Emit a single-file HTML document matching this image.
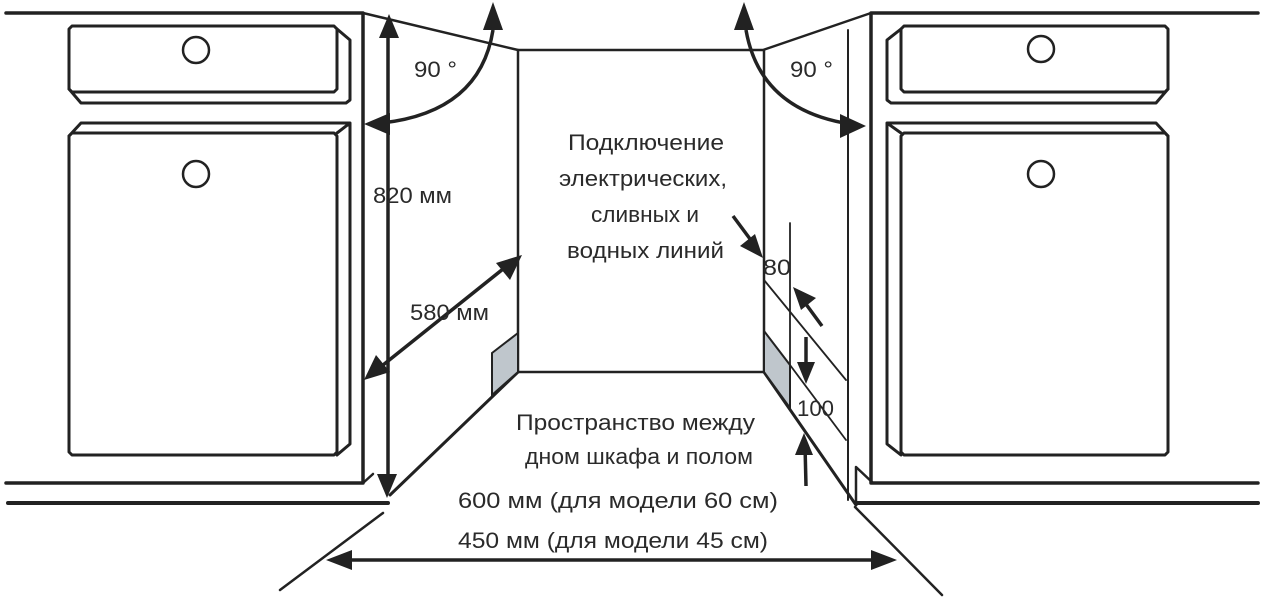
<!DOCTYPE html>
<html><head><meta charset="utf-8"><style>
html,body{margin:0;padding:0;background:#fff;width:1268px;height:603px;overflow:hidden}
text{font-family:"Liberation Sans",sans-serif;fill:#2a2a2a;font-size:22px}
</style></head><body>
<svg width="1268" height="603" viewBox="0 0 1268 603" xmlns="http://www.w3.org/2000/svg">
<g fill="none" stroke="#222" stroke-linecap="round" stroke-linejoin="round">
<path d="M6 13H363V483H6" stroke-width="3.5"/>
<path d="M8 503H388" stroke-width="4"/>
<path d="M363 483l10-9" stroke-width="2.5"/>
<path d="M72 26H334l3 3V89l-3 3H72l-3-3V29z" stroke-width="3"/>
<path d="M69 89l12 14H346l4-3V40l-13-11" stroke-width="3"/>
<circle cx="196" cy="50" r="13" stroke-width="2.5"/>
<path d="M72 133H334l3 3V452l-3 3H72l-3-3V136z" stroke-width="3"/>
<path d="M69 136l12-13H350l-13 10M350 123V444l-13 11" stroke-width="3"/>
<circle cx="196" cy="174" r="13" stroke-width="2.5"/>
<path d="M363 13L518 50H763L871 13" stroke-width="2.5"/>
<path d="M518 50V372H764V50" stroke-width="2.5"/>
<path d="M518 372L390 495" stroke-width="3"/>
<path d="M764 372L856 505" stroke-width="3"/>
<path d="M383 513L280 590" stroke-width="2.5"/>
<path d="M855 507L942 595" stroke-width="2.5"/>
<path d="M1258 13H871V483H1258" stroke-width="3.5"/>
<path d="M856 503H1258" stroke-width="4"/>
<path d="M856 503V467l17 16" stroke-width="2.5"/>
<path d="M848 30V500" stroke-width="2"/>
<path d="M904 26H1165l3 3V89l-3 3H904l-3-3V29z" stroke-width="3"/>
<path d="M901 29l-14 11V100l4 3H1156l12-14" stroke-width="3"/>
<circle cx="1041" cy="49" r="13" stroke-width="2.5"/>
<path d="M904 133H1165l3 3V452l-3 3H904l-3-3V136z" stroke-width="3"/>
<path d="M901 133l-14-10H1156l12 13M887 123V444l14 11" stroke-width="3"/>
<circle cx="1041" cy="174" r="13" stroke-width="2.5"/>
<path d="M790 223V408" stroke-width="1.8"/>
<path d="M764 280L846 380M790 365L846 440" stroke-width="1.8"/>
</g>
<polygon points="492,353 518,333 518,372 492,395" fill="#bfc6cc" stroke="#222" stroke-width="2"/>
<polygon points="764,331 790,365 790,408 764,372" fill="#bfc6cc" stroke="#222" stroke-width="2"/>
<g stroke="#222" stroke-width="3.5" fill="none">
<path d="M388 30V484"/>
<path d="M493 30Q480 112 382 123"/>
<path d="M746 30Q760 110 850 124"/>
<path d="M378 369L508 265"/>
<path d="M342 560H882"/>
<path d="M733 216L756 247"/>
<path d="M822 326L800 296"/>
<path d="M806 337L806 373"/>
<path d="M806 486L805 445"/>
</g>
<g fill="#222">
<polygon points="389,14 379,38 399,38"/>
<polygon points="387,498 377,474 397,474"/>
<polygon points="493,2 483,30 503,30"/>
<polygon points="364,124 390,113 390,135"/>
<polygon points="744,2 734,30 754,30"/>
<polygon points="866,126 840,114 840,138"/>
<polygon points="364,380 376,355 390,372"/>
<polygon points="522,255 496,263 510,280"/>
<polygon points="326,560 352,550 352,570"/>
<polygon points="897,560 871,550 871,570"/>
<polygon points="763,258 740,246 755,234"/>
<polygon points="793,287 816,298 801,310"/>
<polygon points="806,384 797,362 815,362"/>
<polygon points="804,433 795,455 813,455"/>
</g>
<g lengthAdjust="spacingAndGlyphs">
<text x="414" y="77" textLength="43" lengthAdjust="spacingAndGlyphs">90 °</text>
<text x="790" y="77" textLength="43" lengthAdjust="spacingAndGlyphs">90 °</text>
<text x="373" y="203" textLength="79" lengthAdjust="spacingAndGlyphs">820 мм</text>
<text x="410" y="320" textLength="79" lengthAdjust="spacingAndGlyphs">580 мм</text>
<text x="568" y="150" textLength="156" lengthAdjust="spacingAndGlyphs">Подключение</text>
<text x="559" y="186" textLength="168" lengthAdjust="spacingAndGlyphs">электрических,</text>
<text x="591" y="222" textLength="108" lengthAdjust="spacingAndGlyphs">сливных и</text>
<text x="567" y="258" textLength="157" lengthAdjust="spacingAndGlyphs">водных линий</text>
<text x="763" y="275" textLength="28" lengthAdjust="spacingAndGlyphs">80</text>
<text x="797" y="416" textLength="37" lengthAdjust="spacingAndGlyphs">100</text>
<text x="516" y="430" textLength="239" lengthAdjust="spacingAndGlyphs">Пространство между</text>
<text x="525" y="464" textLength="228" lengthAdjust="spacingAndGlyphs">дном шкафа и полом</text>
<text x="458" y="508" textLength="320" lengthAdjust="spacingAndGlyphs">600  мм (для модели 60  см)</text>
<text x="458" y="548" textLength="310" lengthAdjust="spacingAndGlyphs">450  мм (для модели 45 см)</text>
</g>
</svg>
</body></html>
